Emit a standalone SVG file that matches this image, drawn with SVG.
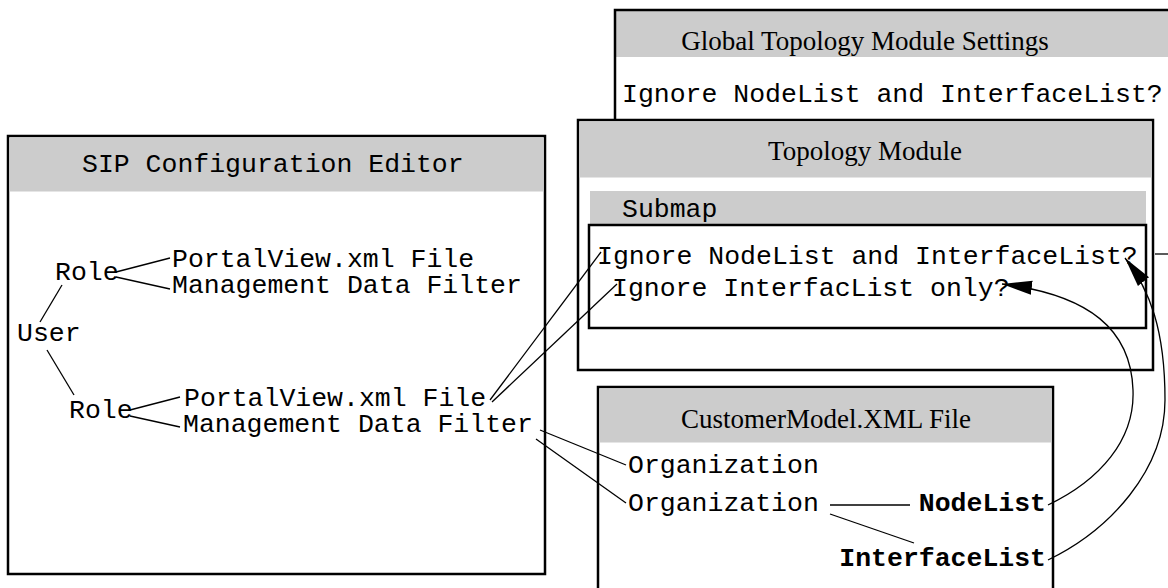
<svg xmlns="http://www.w3.org/2000/svg" width="1168" height="588" viewBox="0 0 1168 588">
  <style>
    .box { fill: #ffffff; stroke: #000000; stroke-width: 2.5; }
    .hdr { fill: #cccccc; stroke: none; }
    .edge { fill: none; stroke: #000000; stroke-width: 2.5; }
    .title { font-family: "Liberation Serif", "Times New Roman", serif; font-size: 27px; fill: #000000; text-anchor: middle; }
    .mono { font-family: "Liberation Mono", "Courier New", monospace; font-size: 26.5px; fill: #000000; }
    .bold { font-weight: bold; }
    .end { text-anchor: end; }
    .link { fill: none; stroke: #000000; stroke-width: 1.3; }
  </style>
  <defs>
    <marker id="arrow" markerUnits="userSpaceOnUse" markerWidth="32" markerHeight="18" refX="30" refY="9" orient="auto">
      <path d="M0,2 L30,9 L0,16 z" fill="#000000"/>
    </marker>
  </defs>

  <rect width="1168" height="588" fill="#ffffff"/>

  <!-- Global settings panel (runs off the top-right) -->
  <g id="global-settings">
    <rect class="hdr" x="616" y="11" width="552" height="46"/>
    <path class="edge" d="M615,120 V10 H1168"/>
    <text class="title" x="865" y="50">Global Topology Module Settings</text>
    <text class="mono" x="622" y="102">Ignore NodeList and InterfaceList?</text>
  </g>

  <!-- Topology module with its submap panel -->
  <g id="topology-module">
    <rect class="box" x="578" y="120" width="575" height="250"/>
    <rect class="hdr" x="579.5" y="121.5" width="572" height="56"/>
    <text class="title" x="865" y="160">Topology Module</text>
    <g id="submap">
      <rect class="hdr" x="590" y="191" width="556" height="34"/>
      <text class="mono" x="622" y="217">Submap</text>
      <rect class="box" x="589" y="225" width="557" height="103" fill="none"/>
      <text class="mono" x="597" y="264">Ignore NodeList and InterfaceList?</text>
      <text class="mono" x="612" y="296">Ignore InterfacList only?</text>
    </g>
  </g>

  <!-- SIP configuration editor -->
  <g id="sip-editor">
    <rect class="box" x="8" y="136" width="537" height="438"/>
    <rect class="hdr" x="9.5" y="137.5" width="534" height="54"/>
    <text class="mono" x="82" y="172">SIP Configuration Editor</text>
    <text class="mono" x="55" y="280">Role</text>
    <text class="mono" x="172" y="267">PortalView.xml File</text>
    <text class="mono" x="172" y="293">Management Data Filter</text>
    <text class="mono" x="17" y="341">User</text>
    <text class="mono" x="69" y="418">Role</text>
    <text class="mono" x="184" y="406">PortalView.xml File</text>
    <text class="mono" x="183" y="432">Management Data Filter</text>
  </g>

  <!-- Customer model file -->
  <g id="customer-model">
    <rect class="box" x="598" y="387" width="455" height="230"/>
    <rect class="hdr" x="599.5" y="388.5" width="452" height="54"/>
    <text class="title" x="826" y="428">CustomerModel.XML File</text>
    <text class="mono" x="628" y="473">Organization</text>
    <text class="mono" x="628" y="511">Organization</text>
    <text class="mono bold end" x="1046" y="511">NodeList</text>
    <text class="mono bold end" x="1046" y="566">InterfaceList</text>
  </g>

  <!-- Connectors -->
  <g id="connectors">
    <line class="link" x1="40" y1="322" x2="62" y2="285"/>
    <line class="link" x1="47" y1="350" x2="74" y2="395"/>
    <line class="link" x1="116" y1="272" x2="170" y2="258"/>
    <line class="link" x1="116" y1="277" x2="170" y2="289"/>
    <line class="link" x1="130" y1="410" x2="180" y2="397"/>
    <line class="link" x1="130" y1="416" x2="180" y2="427"/>
    <line class="link" x1="490" y1="400" x2="601" y2="252"/>
    <line class="link" x1="492" y1="402" x2="617" y2="284"/>
    <line class="link" x1="540" y1="430" x2="626" y2="465"/>
    <line class="link" x1="536" y1="439" x2="626" y2="503"/>
    <line class="link" x1="830" y1="505" x2="910" y2="505" stroke-width="2"/>
    <line class="link" x1="830" y1="514" x2="914" y2="543"/>
    <path class="link" d="M1048,505 C1100,480 1135,440 1133,390 C1131,330 1090,295 1002,284" marker-end="url(#arrow)"/>
    <path class="link" d="M1048,560 C1110,530 1165,470 1165,400 C1165,330 1150,290 1125,258" marker-end="url(#arrow)"/>
    <line class="link" x1="1155" y1="254" x2="1168" y2="254" stroke-width="2"/>
  </g>
</svg>
